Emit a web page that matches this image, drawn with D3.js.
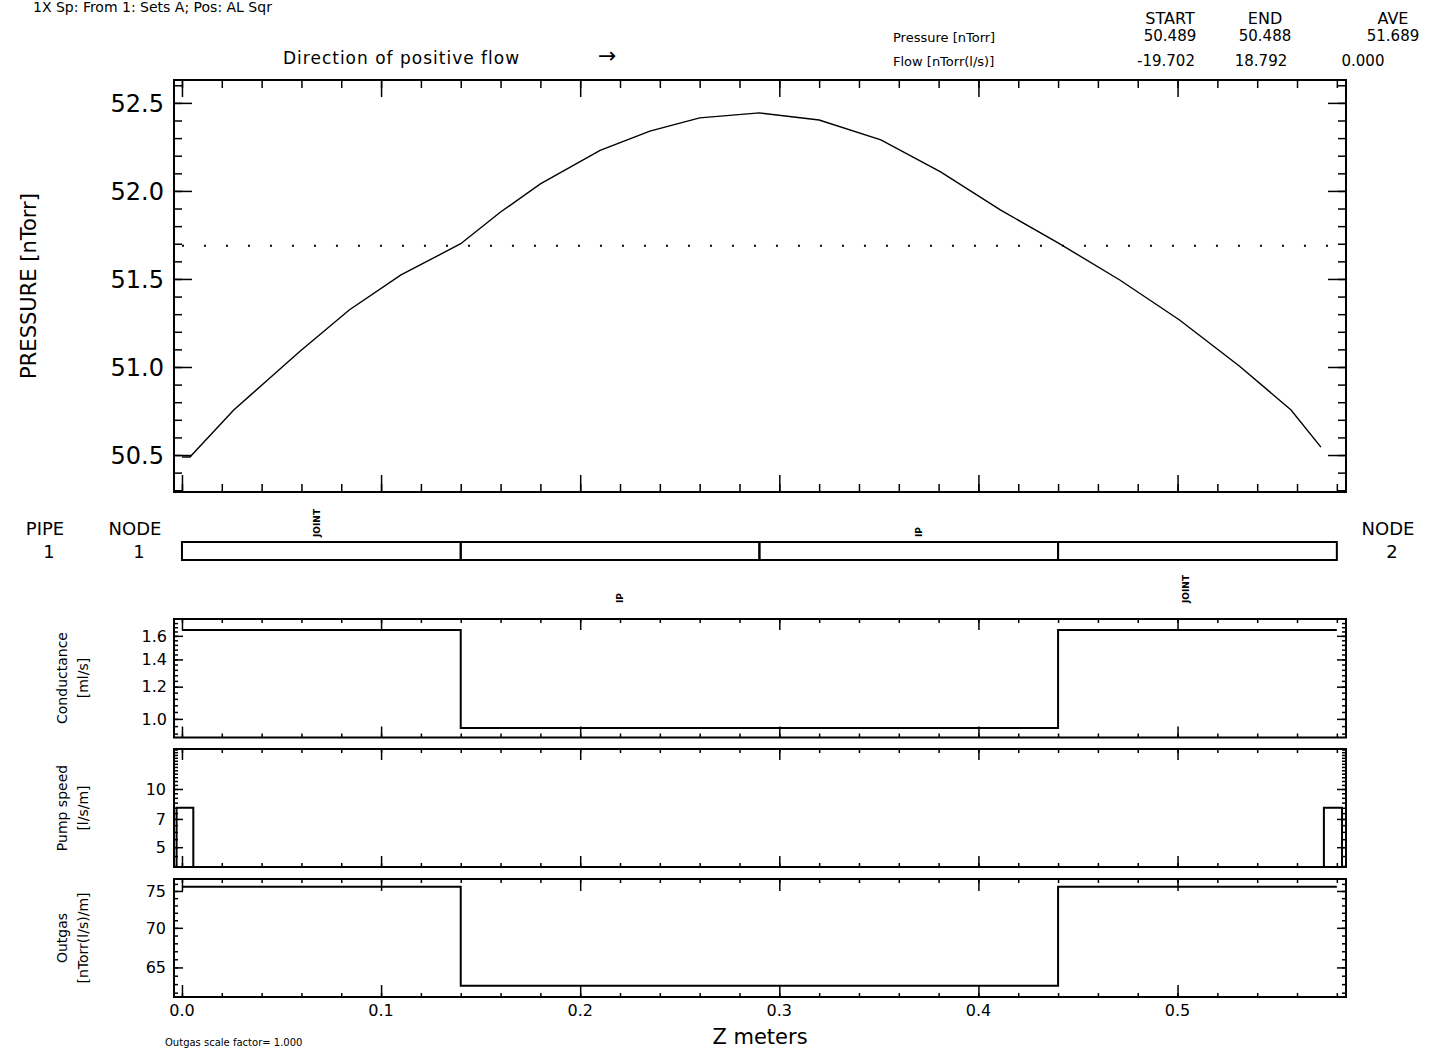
<!DOCTYPE html>
<html lang="en">
<head>
<meta charset="utf-8">
<title>Pressure profile</title>
<script src="https://d3js.org/d3.v7.min.js"></script>
<style>
  body { margin: 0; background: #fff; }
  svg { display: block; font-family: "DejaVu Sans", sans-serif; }
  .frame { fill: none; stroke: #000; stroke-width: 2; }
  .tick line { stroke: #000; stroke-width: 1.5; }
  .domain { display: none; }
</style>
</head>
<body>
<script>
var width = 1430, height = 1052;

// pressure along the pipe
var zPos = [0.000, 0.004, 0.026, 0.043, 0.059, 0.084, 0.110, 0.140, 0.160, 0.180, 0.210,
            0.235, 0.260, 0.290, 0.320, 0.351, 0.381, 0.411, 0.440, 0.471, 0.501,
            0.531, 0.557, 0.572];
var pressure = [50.489, 50.489, 50.756, 50.926, 51.087, 51.324, 51.523, 51.700, 51.880, 52.040, 52.230,
                52.340, 52.415, 52.443, 52.403, 52.290, 52.108, 51.892, 51.705, 51.494, 51.267,
                51.006, 50.756, 50.545];
var avePressure = 51.689;

// pipe elements
var segStart = [0, 0.14, 0.29, 0.44];
var segEnd = [0.14, 0.29, 0.44, 0.58];
var segLabel = ["JOINT", "IP", "IP", "JOINT"];
var segLabelZ = [0.068, 0.22, 0.37, 0.504];
var conductance = [1.654, 0.95, 0.95, 1.654];
var outgas = [75.6, 62.8, 62.8, 75.6];

// lumped pumps at the two nodes
var pumpStart = [-0.0027, 0.5735];
var pumpEnd = [0.0057, 0.5826];
var pumpSpeed = [8.0, 8.0];

var xTicks = [0.0, 0.1, 0.2, 0.3, 0.4, 0.5];
var pTicks = [50.5, 51.0, 51.5, 52.0, 52.5];
var cTicks = [1.0, 1.2, 1.4, 1.6];
var sTicks = [5, 7, 10];
var oTicks = [65, 70, 75];

var tableCols = ["START", "END", "AVE"];
var tablePressure = ["50.489", "50.488", "51.689"];
var tableFlow = ["-19.702", "18.792", "0.000"];

var svg = d3.select("body").append("svg")
  .attr("width", width)
  .attr("height", height);

var left = 174, right = 1346;
var x = d3.scaleLinear().domain([-0.004, 0.5846]).range([left, right]);

var xMinor = d3.range(0, 0.585, 0.02).map(function(d) { return +d.toFixed(2); });

// draw inward ticks on all four sides of a frame
function frameTicks(y, top, bottom, yMaj, yMin, lens) {
  var g = svg.append("g");
  g.append("g").attr("transform", "translate(" + left + ",0)")
    .call(d3.axisLeft(y).tickValues(yMin).tickSizeInner(-lens.yMin).tickSizeOuter(0).tickFormat(""));
  g.append("g").attr("transform", "translate(" + left + ",0)")
    .call(d3.axisLeft(y).tickValues(yMaj).tickSizeInner(-lens.yMaj).tickSizeOuter(0).tickFormat(""));
  g.append("g").attr("transform", "translate(" + right + ",0)")
    .call(d3.axisRight(y).tickValues(yMin).tickSizeInner(-lens.yMin).tickSizeOuter(0).tickFormat(""));
  g.append("g").attr("transform", "translate(" + right + ",0)")
    .call(d3.axisRight(y).tickValues(yMaj).tickSizeInner(-lens.yMaj).tickSizeOuter(0).tickFormat(""));
  [top, bottom].forEach(function(pos, i) {
    var ax = i === 0 ? d3.axisTop : d3.axisBottom;
    g.append("g").attr("transform", "translate(0," + pos + ")")
      .call(ax(x).tickValues(xMinor).tickSizeInner(-lens.xMin).tickSizeOuter(0).tickFormat(""));
    g.append("g").attr("transform", "translate(0," + pos + ")")
      .call(ax(x).tickValues(xTicks).tickSizeInner(-lens.xMaj).tickSizeOuter(0).tickFormat(""));
  });
  svg.append("rect").attr("class", "frame")
    .attr("x", left).attr("y", top)
    .attr("width", right - left).attr("height", bottom - top);
}

// ---------- main pressure plot ----------
var yP = d3.scaleLinear().domain([50.29, 52.63]).range([492, 80]);
var pMinor = d3.range(50.3, 52.65, 0.1).map(function(d) { return +d.toFixed(1); });
frameTicks(yP, 80, 492, pTicks, pMinor, {yMaj: 18, yMin: 8, xMaj: 17, xMin: 8});

svg.append("g").selectAll("text").data(pTicks).enter().append("text")
  .attr("x", 164).attr("y", function(d) { return yP(d); })
  .attr("dy", "0.36em").attr("text-anchor", "end")
  .attr("font-size", 24)
  .text(d3.format(".1f"));

svg.append("text")
  .attr("transform", "translate(36,286) rotate(-90)")
  .attr("text-anchor", "middle").attr("font-size", 21)
  .text("PRESSURE [nTorr]");

svg.append("line")
  .attr("x1", x(0)).attr("x2", right - 4)
  .attr("y1", yP(avePressure)).attr("y2", yP(avePressure))
  .attr("stroke", "#000").attr("stroke-width", 2)
  .attr("stroke-dasharray", "2,20");

var pLine = d3.line()
  .x(function(d, i) { return x(zPos[i]); })
  .y(function(d) { return yP(d); });
svg.append("path").datum(pressure)
  .attr("d", pLine)
  .attr("fill", "none").attr("stroke", "#000").attr("stroke-width", 1.4);

// ---------- header texts ----------
svg.append("text").attr("x", 33).attr("y", 12).attr("font-size", 14)
  .text("1X Sp: From 1: Sets A; Pos: AL Sqr");

svg.append("text").attr("x", 283).attr("y", 64).attr("font-size", 17)
  .attr("letter-spacing", 1)
  .text("Direction of positive flow");
svg.append("text").attr("x", 598).attr("y", 63).attr("font-size", 22)
  .text("\u2192");

var colX = [1170, 1265, 1393];
svg.append("text").attr("x", 893).attr("y", 42).attr("font-size", 13).text("Pressure [nTorr]");
svg.append("text").attr("x", 893).attr("y", 66).attr("font-size", 13).text("Flow [nTorr(l/s)]");
svg.append("g").selectAll("text").data(tableCols).enter().append("text")
  .attr("x", function(d, i) { return colX[i]; }).attr("y", 24)
  .attr("text-anchor", "middle").attr("font-size", 16).text(function(d) { return d; });
svg.append("g").selectAll("text").data(tablePressure).enter().append("text")
  .attr("x", function(d, i) { return colX[i]; }).attr("y", 41)
  .attr("text-anchor", "middle").attr("font-size", 15).text(function(d) { return d; });
svg.append("g").selectAll("text").data(tableFlow).enter().append("text")
  .attr("x", function(d, i) { return colX[i] - (i === 2 ? 30 : 4); }).attr("y", 66)
  .attr("text-anchor", "middle").attr("font-size", 15).text(function(d) { return d; });

// ---------- pipe diagram ----------
var pipeTop = 542, pipeBot = 560;
svg.append("g").selectAll("rect").data(segStart).enter().append("rect")
  .attr("x", function(d) { return x(d); })
  .attr("y", pipeTop)
  .attr("width", function(d, i) { return x(segEnd[i]) - x(d); })
  .attr("height", pipeBot - pipeTop)
  .attr("fill", "none").attr("stroke", "#000").attr("stroke-width", 2);

svg.append("g").selectAll("text").data(segLabel).enter().append("text")
  .attr("transform", function(d, i) {
    var yy = i % 2 === 0 ? 537 : 603;
    return "translate(" + (x(segLabelZ[i]) + 3) + "," + yy + ") rotate(-90)";
  })
  .attr("font-size", 9).attr("font-weight", "bold")
  .text(function(d) { return d; });

[["PIPE", "1", 45], ["NODE", "1", 135], ["NODE", "2", 1388]].forEach(function(t) {
  svg.append("text").attr("x", t[2]).attr("y", 535).attr("text-anchor", "middle")
    .attr("font-size", 18).text(t[0]);
  svg.append("text").attr("x", t[2] + 4).attr("y", 558).attr("text-anchor", "middle")
    .attr("font-size", 18).text(t[1]);
});

// ---------- step helper ----------
function stepPoints(vals) {
  var pts = segStart.map(function(s, i) { return [s, vals[i]]; });
  pts.push([segEnd[segEnd.length - 1], vals[vals.length - 1]]);
  return pts;
}

function sideLabel(lines, cy) {
  lines.forEach(function(t, i) {
    svg.append("text")
      .attr("transform", "translate(" + (67 + i * 21) + "," + cy + ") rotate(-90)")
      .attr("text-anchor", "middle").attr("font-size", 14).text(t);
  });
}

// ---------- conductance ----------
var yC = d3.scaleLog().domain([0.90, 1.76]).range([737.5, 619]);
var cMinor = d3.range(0.92, 1.76, 0.04).map(function(d) { return +d.toFixed(2); });
frameTicks(yC, 619, 737.5, cTicks, cMinor, {yMaj: 9, yMin: 4, xMaj: 11, xMin: 4});
svg.append("path").datum(stepPoints(conductance))
  .attr("d", d3.line().curve(d3.curveStepAfter)
    .x(function(d) { return x(d[0]); }).y(function(d) { return yC(d[1]); }))
  .attr("fill", "none").attr("stroke", "#000").attr("stroke-width", 2);
svg.append("g").selectAll("text").data(cTicks).enter().append("text")
  .attr("x", 167).attr("y", function(d) { return yC(d); })
  .attr("dy", "0.36em").attr("text-anchor", "end").attr("font-size", 16)
  .text(d3.format(".1f"));
sideLabel(["Conductance", "[ml/s]"], 678);

// ---------- pump speed ----------
var yS = d3.scaleLog().domain([3.95, 16.1]).range([867, 749]);
var sMinor = d3.range(4, 16.1, 0.5);
frameTicks(yS, 749, 867, sTicks, sMinor, {yMaj: 9, yMin: 4, xMaj: 11, xMin: 4});
svg.append("g").selectAll("path").data(pumpStart).enter().append("path")
  .attr("d", function(d, i) {
    return "M" + x(d) + "," + yS(3.95) + "V" + yS(pumpSpeed[i]) +
      "H" + x(pumpEnd[i]) + "V" + yS(3.95);
  })
  .attr("fill", "none").attr("stroke", "#000").attr("stroke-width", 2);
svg.append("g").selectAll("text").data(sTicks).enter().append("text")
  .attr("x", 166).attr("y", function(d) { return yS(d); })
  .attr("dy", "0.36em").attr("text-anchor", "end").attr("font-size", 16)
  .text(function(d) { return d; });
sideLabel(["Pump speed", "[l/s/m]"], 808);

// ---------- outgas ----------
var yO = d3.scaleLog().domain([61.5, 76.7]).range([997, 879]);
var oMinor = d3.range(62, 77, 1);
frameTicks(yO, 879, 997, oTicks, oMinor, {yMaj: 9, yMin: 4, xMaj: 12, xMin: 4});
svg.append("path").datum(stepPoints(outgas))
  .attr("d", d3.line().curve(d3.curveStepAfter)
    .x(function(d) { return x(d[0]); }).y(function(d) { return yO(d[1]); }))
  .attr("fill", "none").attr("stroke", "#000").attr("stroke-width", 2);
svg.append("g").selectAll("text").data(oTicks).enter().append("text")
  .attr("x", 166).attr("y", function(d) { return yO(d); })
  .attr("dy", "0.36em").attr("text-anchor", "end").attr("font-size", 16)
  .text(function(d) { return d; });
sideLabel(["Outgas", "[nTorr(l/s)/m]"], 938);

svg.append("g").selectAll("text").data(xTicks).enter().append("text")
  .attr("x", function(d) { return x(d); }).attr("y", 1016)
  .attr("text-anchor", "middle").attr("font-size", 16)
  .text(d3.format(".1f"));

svg.append("text").attr("x", 760).attr("y", 1044).attr("text-anchor", "middle")
  .attr("font-size", 21).text("Z meters");
svg.append("text").attr("x", 165).attr("y", 1046).attr("font-size", 10)
  .text("Outgas scale factor= 1.000");
</script>
</body>
</html>
